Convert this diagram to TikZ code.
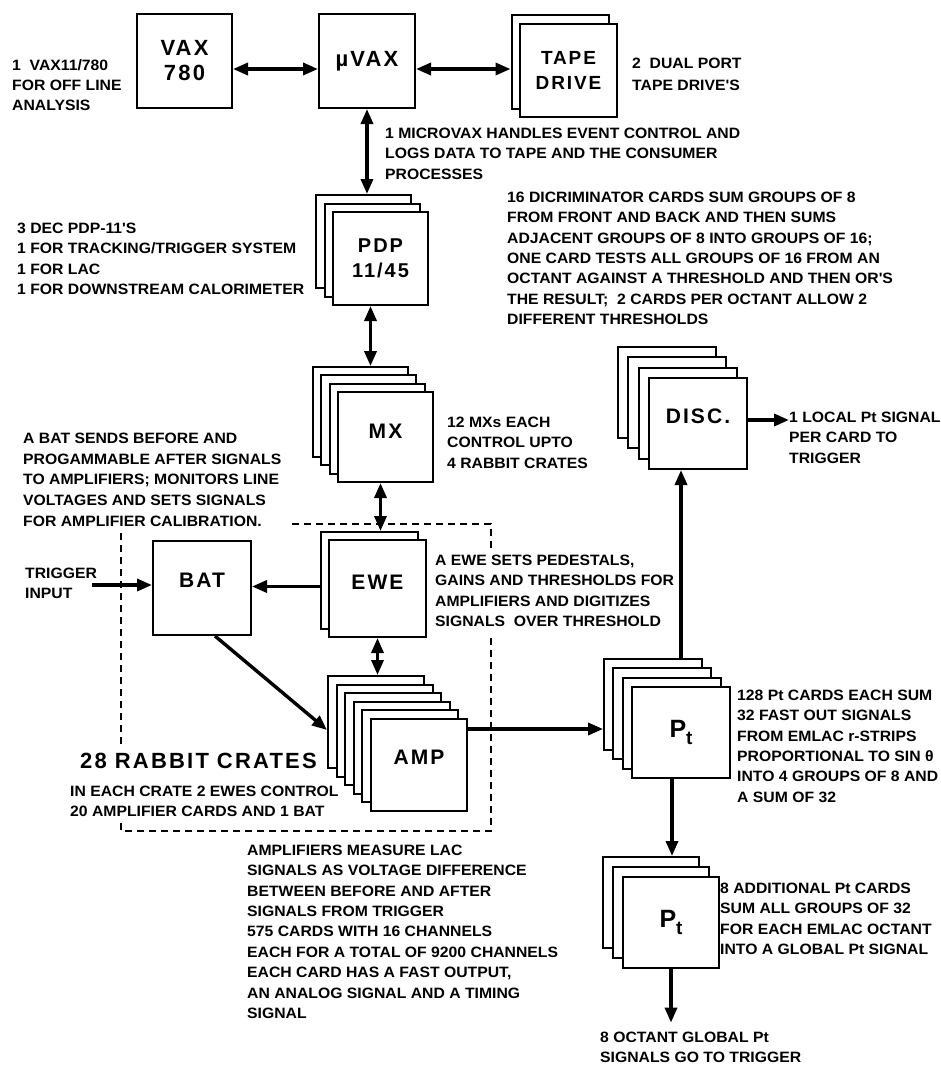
\documentclass[tikz,border=0pt]{standalone}
\usepackage{fontspec}
\setmainfont{Liberation Sans}
\newfontfamily\tfont{Liberation Sans}[FakeStretch=1.05]
\newfontfamily\bfont{Liberation Sans}[LetterSpace=10]
\usetikzlibrary{arrows.meta}
\tikzset{
  cardbox/.style={draw, line width=2pt, fill=white, inner sep=0pt},
  lbl/.style={font=\bfont\bfseries\fontsize{#1}{25}\selectfont, align=center},
  txt/.style={font=\tfont\bfseries\fontsize{15}{20.4}\selectfont, align=left, anchor=north west, inner sep=0pt},
  arr/.style={line width=3.4pt, -{Triangle[length=15pt,width=12pt]}},
  darr/.style={line width=3.4pt, {Triangle[length=15pt,width=12pt]}-{Triangle[length=15pt,width=12pt]}},
  crate/.style={line width=2pt, dash pattern=on 7pt off 5pt},
}
% name, x, y, w, h, n, offset, label style, label
\newcommand{\cardstack}[9]{%
  \pgfmathtruncatemacro{\nback}{#6-1}%
  \foreach \k in {\nback,...,1}{%
    \node[cardbox, minimum width=#4pt, minimum height=#5pt] (#1-\k) at ({#2-\k*#7+#4/2},{#3-\k*#7+#5/2}) {};
  }%
  \node[cardbox, #8, minimum width=#4pt, minimum height=#5pt] (#1) at ({#2+#4/2},{#3+#5/2}) {#9};
}
\begin{document}
\begin{tikzpicture}[x=1pt,y=-1pt]
\useasboundingbox[fill=white] (0,0) rectangle (941,1065);

% ---- top row
\node[cardbox, lbl=22, minimum width=95pt, minimum height=94pt] (vax) at (184.5,61) {VAX\\780};
\node[cardbox, lbl=22, minimum width=96pt, minimum height=94pt] (muvax) at (367,61) {µVAX};
\cardstack{tape}{520}{24}{97}{93}{2}{8.5}{lbl=19}{TAPE\\DRIVE}

% ---- computers
\cardstack{pdp}{333}{212}{95}{93}{3}{8.5}{lbl=20}{PDP\\11/45}
\cardstack{mx}{338}{392}{95}{90}{4}{8.3}{lbl=21, text depth=12pt}{MX}

% ---- rabbit crate
\node[cardbox, lbl=21, text depth=16pt, minimum width=98pt, minimum height=94pt] (bat) at (202,588) {BAT};
\cardstack{ewe}{329}{540}{97}{97}{2}{8}{lbl=21, text depth=12pt}{EWE}
\cardstack{amp}{371}{719}{96}{92}{6}{8.6}{lbl=21, text depth=16pt}{AMP}

% ---- trigger processors
\cardstack{disc}{649}{378}{98}{91}{4}{10.3}{lbl=21, text depth=14pt}{DISC.}
\cardstack{pt}{632}{687}{98}{91}{4}{9.3}{lbl=25, text depth=8pt}{P\raisebox{-7pt}{\fontsize{19}{19}\selectfont t}}
\cardstack{ptb}{623}{877}{96}{91}{3}{10}{lbl=25, text depth=8pt}{P\raisebox{-7pt}{\fontsize{19}{19}\selectfont t}}

% ---- dashed crate outline
\draw[crate] (121,533) -- (121,745);
\draw[crate] (121,823) -- (121,831) -- (491,831) -- (491,636);
\draw[crate] (491,548) -- (491,524) -- (292,524);

% ---- texts
\node[txt, font=\tfont\bfseries\fontsize{15}{20}\selectfont] (vaxtxt) at (12,59.6) {1\ \ VAX11/780\\FOR OFF LINE\\ANALYSIS};
\node[txt, font=\tfont\bfseries\fontsize{15}{22}\selectfont] (tapetxt) at (632,57.6) {2\ \ DUAL PORT\\TAPE DRIVE'S};
\node[txt] (uvaxtxt) at (385,127.6) {1 MICROVAX HANDLES EVENT CONTROL AND\\LOGS DATA TO TAPE AND THE CONSUMER\\PROCESSES};
\node[txt] (disctop) at (507,191.6) {16 DICRIMINATOR CARDS SUM GROUPS OF 8\\FROM FRONT AND BACK AND THEN SUMS\\ADJACENT GROUPS OF 8 INTO GROUPS OF 16;\\ONE CARD TESTS ALL GROUPS OF 16 FROM AN\\OCTANT AGAINST A THRESHOLD AND THEN OR'S\\THE RESULT;\ \ 2 CARDS PER OCTANT ALLOW 2\\DIFFERENT THRESHOLDS};
\node[txt] (pdptxt) at (17,222.6) {3 DEC PDP-11'S\\1 FOR TRACKING/TRIGGER SYSTEM\\1 FOR LAC\\1 FOR DOWNSTREAM CALORIMETER};
\node[txt] (mxtxt) at (447,416.6) {12 MXs EACH\\CONTROL UPTO\\4 RABBIT CRATES};
\node[txt, font=\tfont\bfseries\fontsize{15}{20.8}\selectfont] (battxt) at (23,432.6) {A BAT SENDS BEFORE AND\\PROGAMMABLE AFTER SIGNALS\\TO AMPLIFIERS; MONITORS LINE\\VOLTAGES AND SETS SIGNALS\\FOR AMPLIFIER CALIBRATION.};
\node[txt] (trigtxt) at (25,567.6) {TRIGGER\\INPUT};
\node[txt] (ewetxt) at (435,554.6) {A EWE SETS PEDESTALS,\\GAINS AND THRESHOLDS FOR\\AMPLIFIERS AND DIGITIZES\\SIGNALS\ \ OVER THRESHOLD};
\node[txt] (discrt) at (789,411.6) {1 LOCAL Pt SIGNAL\\PER CARD TO\\TRIGGER};
\node[txt] (pttxt) at (737,689.6) {128 Pt CARDS EACH SUM\\32 FAST OUT SIGNALS\\FROM EMLAC r-STRIPS\\PROPORTIONAL TO SIN θ\\INTO 4 GROUPS OF 8 AND\\A SUM OF 32};
\node[anchor=west, inner sep=0pt, font=\bfont\bfseries\fontsize{22}{25}\selectfont] (crates) at (80,761) {28\hspace{8pt}RABBIT\hspace{8pt}CRATES};
\node[txt] (cratetxt) at (70,785.6) {IN EACH CRATE 2 EWES CONTROL\\20 AMPLIFIER CARDS AND 1 BAT};
\node[txt] (amptxt) at (247,844.6) {AMPLIFIERS MEASURE LAC\\SIGNALS AS VOLTAGE DIFFERENCE\\BETWEEN BEFORE AND AFTER\\SIGNALS FROM TRIGGER\\575 CARDS WITH 16 CHANNELS\\EACH FOR A TOTAL OF 9200 CHANNELS\\EACH CARD HAS A FAST OUTPUT,\\AN ANALOG SIGNAL AND A TIMING\\SIGNAL};
\node[txt] (ptbtxt) at (720,882.6) {8 ADDITIONAL Pt CARDS\\SUM ALL GROUPS OF 32\\FOR EACH EMLAC OCTANT\\INTO A GLOBAL Pt SIGNAL};
\node[txt] (bottxt) at (600,1031.6) {8 OCTANT GLOBAL Pt\\SIGNALS GO TO TRIGGER};

% ---- connectors
\coordinate (trig) at (92,585);
\draw[darr] ([yshift=-8pt]vax.east) -- ([yshift=-8pt]muvax.west);
\draw[darr] ([yshift=-8pt]muvax.east) -- ([yshift=-8pt]muvax.east -| tape-1.west);
\draw[darr] (muvax.south) -- (muvax.south |- pdp-2.north);
\draw[darr] ([xshift=-10pt]pdp.south) -- ([xshift=-10pt]pdp.south |- mx-3.north);
\draw[darr] ([xshift=-5pt]mx.south) -- ([xshift=-5pt]mx.south |- ewe-1.north);
\draw[darr] (ewe.south) -- (ewe.south |- amp-5.north);
\draw[arr] ([yshift=-6pt]ewe-1.west) -- ([yshift=-6pt]ewe-1.west -| bat.east);
\draw[arr] (trig) -- (trig -| bat.west);
\draw[arr] ([xshift=13pt]bat.south) -- ([yshift=-8pt]amp-5.west);
\draw[arr] ([yshift=36pt]amp.east) -- ([yshift=36pt]amp.east -| pt-3.west);
\draw[arr] (pt.center |- pt-3.north) -- (pt.center |- disc.south);
\draw[arr] ([yshift=3.5pt]disc.east) -- ([yshift=3.5pt]disc.east -| discrt.west);
\draw[arr] ([xshift=-9pt]pt.south) -- ([xshift=-9pt]pt.south |- ptb-2.north);
\draw[arr] (ptb.south) -- ([yshift=9pt]ptb.south |- bottxt.north);
\end{tikzpicture}
\end{document}
